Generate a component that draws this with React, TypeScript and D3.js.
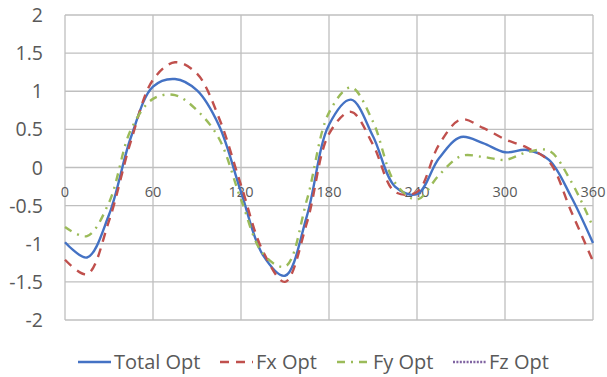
import React, { useEffect, useRef } from 'react';
import * as d3 from 'd3';

const angles = d3.range(0, 361, 15);
const xTicks = [0, 60, 120, 180, 240, 300, 360];
const yTicks = [-2, -1.5, -1, -0.5, 0, 0.5, 1, 1.5, 2];

const totalOpt = [-0.98, -1.18, -0.62, 0.4, 1.06, 1.16, 1.01, 0.55, -0.32, -1.15, -1.42, -0.63, 0.56, 0.89, 0.41, -0.25, -0.35, 0.12, 0.4, 0.32, 0.2, 0.23, 0.1, -0.38, -0.99];
const fxOpt = [-1.21, -1.4, -0.7, 0.35, 1.15, 1.38, 1.23, 0.65, -0.23, -1.1, -1.5, -0.72, 0.44, 0.73, 0.3, -0.32, -0.32, 0.3, 0.63, 0.52, 0.37, 0.26, 0.08, -0.57, -1.23];
const fyOpt = [-0.78, -0.9, -0.46, 0.5, 0.9, 0.95, 0.75, 0.38, -0.42, -1.13, -1.3, -0.42, 0.72, 1.05, 0.6, -0.2, -0.42, -0.1, 0.15, 0.14, 0.1, 0.2, 0.22, -0.18, -0.78];
// Fz Opt is in the legend but shows no visible line in the chart
const fzOpt: number[] = [];

const series = [
    { name: 'Total Opt', values: totalOpt, color: '#4472C4', dash: null, legendX: 78 },
    { name: 'Fx Opt', values: fxOpt, color: '#C0504D', dash: '9,7', legendX: 220 },
    { name: 'Fy Opt', values: fyOpt, color: '#9BBB59', dash: '8,6,2,6', legendX: 337 },
    { name: 'Fz Opt', values: fzOpt, color: '#8064A2', dash: '2,1.4', legendX: 453 },
];

const width = 607;
const height = 377;
const margin = { top: 15, right: 14, bottom: 57, left: 65 };
const font = '"Open Sans", sans-serif';
const textColor = '#595959';

export default function App() {
    const ref = useRef<SVGSVGElement>(null);

    useEffect(() => {
        const svg = d3.select(ref.current);
        svg.selectAll('*').remove();

        const x = d3.scaleLinear()
            .domain([0, 360])
            .range([margin.left, width - margin.right]);

        const y = d3.scaleLinear()
            .domain([-2, 2])
            .range([height - margin.bottom, margin.top]);

        // grid lines
        svg.append('g')
            .selectAll('line')
            .data(yTicks)
            .join('line')
            .attr('x1', margin.left)
            .attr('x2', width - margin.right)
            .attr('y1', d => y(d))
            .attr('y2', d => y(d))
            .attr('stroke', '#bfbfbf')
            .attr('stroke-width', 1.3);

        svg.append('g')
            .selectAll('line')
            .data(xTicks)
            .join('line')
            .attr('x1', d => x(d))
            .attr('x2', d => x(d))
            .attr('y1', margin.top)
            .attr('y2', height - margin.bottom)
            .attr('stroke', '#bfbfbf')
            .attr('stroke-width', 1.3);

        // y labels
        svg.append('g')
            .selectAll('text')
            .data(yTicks)
            .join('text')
            .attr('x', 43)
            .attr('y', d => y(d) + 7)
            .attr('text-anchor', 'end')
            .attr('font-family', font)
            .attr('font-size', 19.5)
            .attr('fill', textColor)
            .text(d => String(d));

        // x labels sit right under the zero line
        svg.append('g')
            .selectAll('text')
            .data(xTicks)
            .join('text')
            .attr('x', d => x(d))
            .attr('y', y(0) + 29)
            .attr('text-anchor', 'middle')
            .attr('font-family', font)
            .attr('font-size', 14.5)
            .attr('fill', textColor)
            .text(d => String(d));

        const line = d3.line<number>()
            .x((_, i) => x(angles[i]))
            .y(d => y(d))
            .curve(d3.curveCatmullRom.alpha(0.5));

        series.forEach(s => {
            if (!s.values.length) return;
            svg.append('path')
                .attr('fill', 'none')
                .attr('stroke', s.color)
                .attr('stroke-width', 2.4)
                .attr('stroke-dasharray', s.dash)
                .attr('stroke-linejoin', 'round')
                .attr('d', line(s.values));
        });

        // legend
        const legend = svg.append('g');
        series.forEach(s => {
            legend.append('line')
                .attr('x1', s.legendX)
                .attr('x2', s.legendX + 33)
                .attr('y1', 362)
                .attr('y2', 362)
                .attr('stroke', s.color)
                .attr('stroke-width', 2.4)
                .attr('stroke-dasharray', s.dash);
            legend.append('text')
                .attr('x', s.legendX + 36)
                .attr('y', 368.5)
                .attr('font-family', font)
                .attr('font-size', 20)
                .attr('fill', textColor)
                .text(s.name);
        });
    }, []);

    return (
        <svg
            ref={ref}
            width={width}
            height={height}
            style={{ position: 'absolute', left: 0, top: 0, background: '#fff' }}
        />
    );
}
